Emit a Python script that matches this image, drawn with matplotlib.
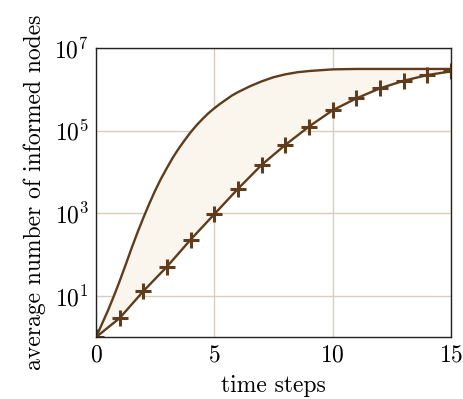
import numpy as np
import matplotlib
matplotlib.use('Agg')
import matplotlib.pyplot as plt
from matplotlib.ticker import FixedLocator

# lower curve (markers at each time step)
steps = [0, 1, 2, 3, 4, 5, 6, 7, 8, 9, 10, 11, 12, 13, 14, 15]
avg_informed = [1, 2.9, 13, 51, 230, 950, 3900, 14800, 45000, 125000,
                310000, 600000, 1.05e6, 1.6e6, 2.2e6, 2.7e6]

# upper bound curve (log10 of the value)
upper_x = [0, 0.25, 0.5, 0.75, 1, 1.25, 1.5, 1.75, 2, 2.25, 2.5, 2.75, 3,
           3.25, 3.5, 3.75, 4, 4.25, 4.5, 4.75, 5, 5.25, 5.5, 5.75, 6,
           6.5, 7, 7.5, 8, 8.5, 9, 9.5, 10, 11, 12, 13, 14, 15]
upper_log = [0, 0.32, 0.64, 0.99, 1.36, 1.75, 2.15, 2.53, 2.89, 3.23, 3.55,
             3.84, 4.10, 4.35, 4.57, 4.77, 4.96, 5.13, 5.28, 5.42, 5.54,
             5.65, 5.75, 5.85, 5.93, 6.07, 6.19, 6.29, 6.36, 6.41, 6.44,
             6.46, 6.48, 6.49, 6.49, 6.49, 6.49, 6.49]
upper_vals = [10 ** v for v in upper_log]

plt.rcParams['font.family'] = 'serif'
plt.rcParams['font.serif'] = ['cmr10']
plt.rcParams['mathtext.fontset'] = 'cm'
plt.rcParams['axes.formatter.use_mathtext'] = True

brown = '#5e3c1c'
fig = plt.figure(figsize=(4.64, 3.99), dpi=100)
ax = fig.add_axes([0.207, 0.155, 0.765, 0.725])

lower_on_upper = np.interp(upper_x, steps, np.log10(avg_informed))
ax.fill_between(upper_x, upper_vals, 10 ** lower_on_upper, color='#faf6ee', lw=0)
ax.plot(upper_x, upper_vals, color=brown, lw=1.7)
ax.plot(steps, avg_informed, color=brown, lw=1.7, marker='+', ms=12, mew=2.2)

ax.set_yscale('log')
ax.set_xlim(0, 15)
ax.set_ylim(1, 1e7)
ax.xaxis.set_major_locator(FixedLocator([0, 5, 10, 15]))
ax.yaxis.set_major_locator(FixedLocator([10, 1e3, 1e5, 1e7]))
ax.yaxis.set_minor_locator(FixedLocator([]))
ax.grid(True, color='#dacdbf', lw=1)
ax.set_axisbelow(True)
ax.tick_params(length=0, labelsize=17, pad=5)
for s in ax.spines.values():
    s.set_color('#222222')
    s.set_linewidth(1)

ax.set_xlabel('time steps', fontsize=17, labelpad=6)
ax.set_ylabel('average number of informed nodes', fontsize=17, labelpad=6)

fig.savefig('out.png', dpi=100)
